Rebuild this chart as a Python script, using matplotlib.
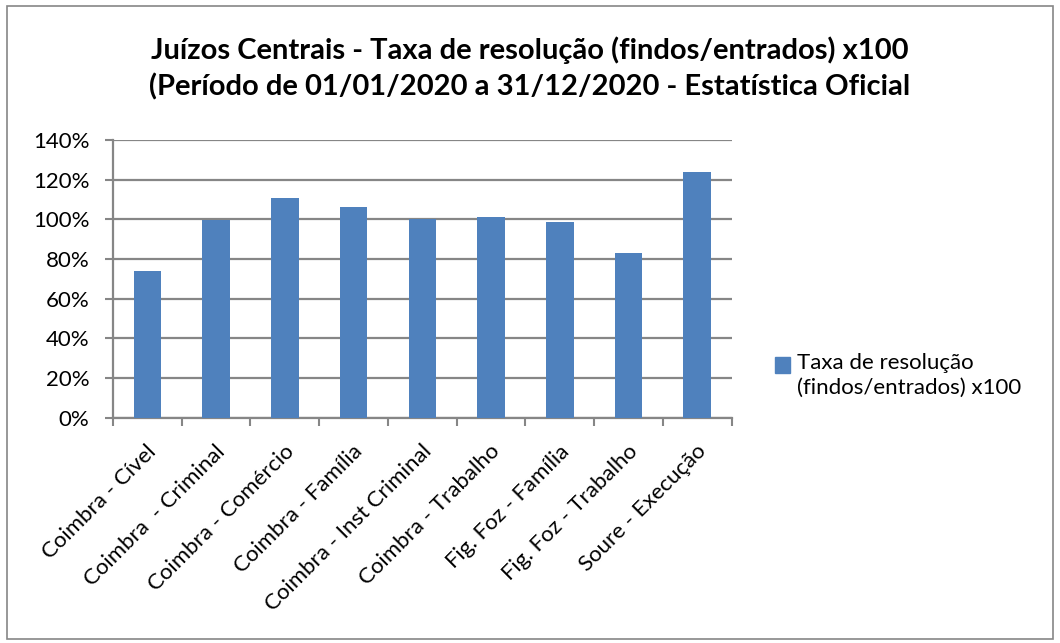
import matplotlib.pyplot as plt
import matplotlib.patches as mpatches
from matplotlib.ticker import FuncFormatter, MultipleLocator, FixedLocator
from matplotlib.transforms import ScaledTranslation

plt.rcParams['font.family'] = ['Lato', 'DejaVu Sans']

# data
categories = ['Coimbra - Cível', 'Coimbra  - Criminal', 'Coimbra - Comércio',
              'Coimbra - Família', 'Coimbra - Inst Criminal', 'Coimbra - Trabalho',
              'Fig. Foz - Família', 'Fig. Foz - Trabalho', 'Soure - Execução']
taxa = [74.2, 99.5, 110.6, 106.4, 100.3, 101.2, 98.8, 83.0, 124.0]
series_name = 'Taxa de resolução\n(findos/entrados) x100'
title = ('Juízos Centrais - Taxa de resolução (findos/entrados) x100\n'
         '(Período de 01/01/2020 a 31/12/2020 - Estatística Oficial')

bar_color = '#4F81BD'
grid_color = '#868686'

fig = plt.figure(figsize=(10.6, 6.43), dpi=100)
ax = fig.add_axes([0.1066, 0.3503, 0.5836, 0.4320])

x = list(range(len(categories)))
ax.bar(x, taxa, width=0.4, color=bar_color, zorder=3)

ax.set_xlim(-0.5, len(categories) - 0.5)
ax.set_ylim(0, 140)
ax.yaxis.set_major_locator(MultipleLocator(20))
ax.yaxis.set_major_formatter(FuncFormatter(lambda v, p: f'{v:.0f}%'))
ax.grid(axis='y', color=grid_color, linewidth=1.6, zorder=0)

ax.set_xticks(x)
ax.set_xticklabels(categories, rotation=45, ha='right', va='center',
                   rotation_mode='anchor', fontsize=16)
ax.tick_params(axis='x', which='major', length=0, pad=22)
# nudge the rotated labels a little to the right, like the original
shift = ScaledTranslation(0.06, 0, fig.dpi_scale_trans)
for lbl in ax.get_xticklabels():
    lbl.set_transform(lbl.get_transform() + shift)
ax.xaxis.set_minor_locator(FixedLocator([i - 0.5 for i in range(len(categories) + 1)]))
ax.tick_params(axis='x', which='minor', length=6, color=grid_color, width=1.5)
ax.tick_params(axis='y', length=6, color=grid_color, width=1.5, labelsize=16, pad=11)

for side in ['top', 'right']:
    ax.spines[side].set_visible(False)
for side in ['left', 'bottom']:
    ax.spines[side].set_color(grid_color)
    ax.spines[side].set_linewidth(1.6)

fig.text(0.5, 0.894, title, ha='center', va='center', fontsize=21,
         fontweight='bold', linespacing=1.4)

# legend drawn by hand so the square sits against the first line
fig.patches.append(mpatches.Rectangle((0.7311, 0.4199), 0.01415, 0.0249,
                                      transform=fig.transFigure, color=bar_color))
fig.text(0.752, 0.451, series_name, ha='left', va='top', fontsize=16, linespacing=1.3)

# outer chart border
fig.patches.append(mpatches.Rectangle((0.007, 0.006), 0.986, 0.984, transform=fig.transFigure,
                                      fill=False, edgecolor=grid_color, linewidth=1.2))

fig.savefig('out.png', dpi=100)
